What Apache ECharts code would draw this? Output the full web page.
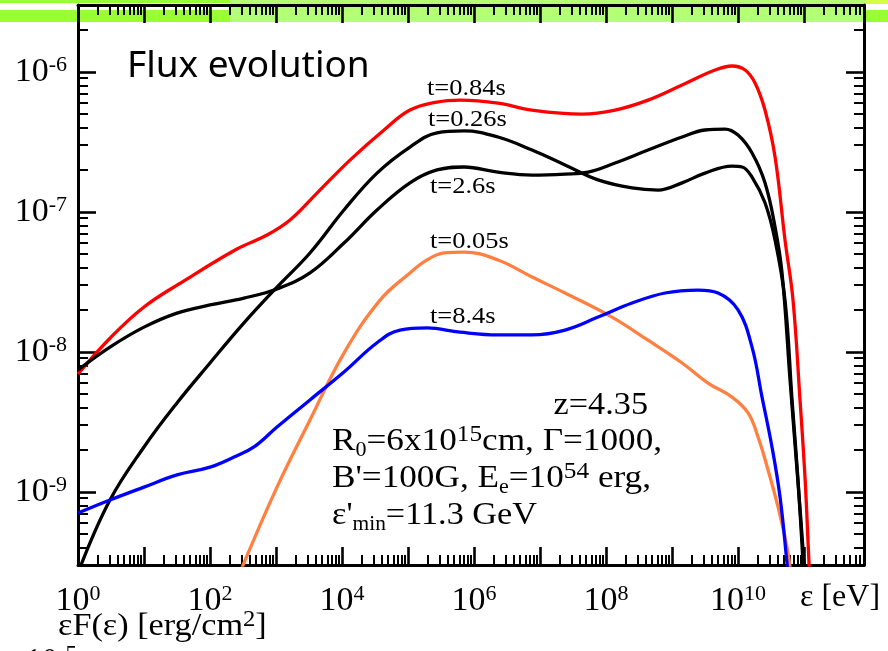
<!DOCTYPE html>
<html>
<head>
<meta charset="utf-8">
<script src="https://cdn.jsdelivr.net/npm/echarts@6/dist/echarts.min.js"></script>
<style>
  html, body { margin: 0; padding: 0; background: #ffffff; }
  #chart { width: 888px; height: 651px; }
</style>
</head>
<body>
<div id="chart"></div>
<script>
// Photon energy (eV) and flux εF(ε) (erg/cm²) for each epoch
const energy_t005 = [285, 327, 1035, 3270, 1.07e4, 3.77e4, 1.07e5, 1.94e5, 3.51e5, 7.05e5, 2.31e6, 7.57e6, 2.39e7, 1.23e8, 4.33e8, 1.42e9, 3.51e9, 8.11e9, 1.42e10, 2.01e10, 2.85e10, 4.04e10, 5.52e10, 6.35e10];
const flux_t005   = [2.55e-10, 3.10e-10, 1.08e-9, 3.26e-9, 9.79e-9, 2.34e-8, 3.66e-8, 4.53e-8, 5.08e-8, 5.16e-8, 4.53e-8, 3.42e-8, 2.63e-8, 1.77e-8, 1.21e-8, 8.32e-9, 5.98e-9, 4.75e-9, 3.66e-9, 2.46e-9, 1.43e-9, 7.78e-10, 4.03e-10, 2.55e-10];

const energy_t026 = [1.07, 3.05, 10, 31.6, 100, 327, 1035, 3270, 1.07e4, 3.39e4, 1.07e5, 2.75e5, 7.05e5, 2.31e6, 7.57e6, 2.39e7, 7.57e7, 2.48e8, 6.14e8, 1.42e9, 3.16e9, 8.11e9, 1.15e10, 1.63e10, 2.56e10, 3.64e10, 5.15e10, 6.58e10, 8.11e10, 9.66e10, 1.04e11];
const flux_t026   = [2.86e-10, 8.73e-10, 2.09e-9, 4.31e-9, 8.32e-9, 1.61e-8, 2.90e-8, 5.08e-8, 1.03e-7, 1.89e-7, 2.90e-7, 3.66e-7, 3.78e-7, 3.42e-7, 2.76e-7, 2.16e-7, 1.69e-7, 1.48e-7, 1.43e-7, 1.61e-7, 1.89e-7, 2.12e-7, 2.09e-7, 1.77e-7, 1.16e-7, 6.28e-8, 2.34e-8, 4.53e-9, 1.21e-9, 3.10e-10, 1.69e-10];

const energy_t084 = [1, 3.05, 10, 40.4, 256, 731, 1630, 4180, 1.32e4, 4.33e4, 1.07e5, 2.75e5, 6.14e5, 2.31e6, 7.57e6, 4.33e7, 1.37e8, 4.33e8, 1.42e9, 4.49e9, 8.11e9, 1.28e10, 1.81e10, 2.56e10, 3.64e10, 5.15e10, 6.81e10, 8.69e10, 1.04e11, 1.19e11, 1.28e11];
const flux_t084   = [6.94e-9, 1.25e-8, 2.09e-8, 3.21e-8, 5.42e-8, 6.82e-8, 8.73e-8, 1.36e-7, 2.34e-7, 3.84e-7, 5.33e-7, 6.08e-7, 6.28e-7, 5.98e-7, 5.33e-7, 4.99e-7, 5.33e-7, 6.28e-7, 8.05e-7, 1.03e-6, 1.10e-6, 1.03e-6, 8.32e-7, 5.33e-7, 2.46e-7, 6.28e-8, 2.34e-8, 4.53e-9, 1.21e-9, 3.10e-10, 1.69e-10];

const energy_t26 = [1, 3.05, 10, 31.6, 100, 327, 1035, 3270, 1.07e4, 3.39e4, 1.07e5, 2.75e5, 7.05e5, 2.31e6, 7.57e6, 2.39e7, 5.33e7, 1.37e8, 4.33e8, 1.42e9, 3.16e9, 6.35e9, 1e10, 1.63e10, 2.56e10, 3.64e10, 4.64e10, 6.14e10, 7.83e10, 1e11, 1.07e11];
const flux_t26   = [7.41e-9, 1.08e-8, 1.50e-8, 1.89e-8, 2.16e-8, 2.42e-8, 2.81e-8, 3.66e-8, 5.98e-8, 1.03e-7, 1.61e-7, 1.99e-7, 2.09e-7, 1.92e-7, 1.83e-7, 1.86e-7, 1.92e-7, 2.23e-7, 2.76e-7, 3.42e-7, 3.84e-7, 3.90e-7, 3.53e-7, 2.63e-7, 1.61e-7, 7.78e-8, 3.66e-8, 6.28e-9, 1.43e-9, 3.10e-10, 1.69e-10];

const energy_t84 = [1, 3.05, 10, 31.6, 100, 231, 464, 1035, 3270, 1.07e4, 3.39e4, 7.57e4, 1.94e5, 6.14e5, 2.31e6, 7.57e6, 2.39e7, 7.57e7, 2.48e8, 7.83e8, 2.48e9, 4.98e9, 1e10, 1.63e10, 2.31e10, 3.27e10, 4.33e10, 5.52e10, 5.93e10];
const flux_t84   = [7.05e-10, 8.73e-10, 1.08e-9, 1.32e-9, 1.50e-9, 1.77e-9, 2.09e-9, 2.90e-9, 4.53e-9, 7.17e-9, 1.16e-8, 1.43e-8, 1.48e-8, 1.38e-8, 1.32e-8, 1.32e-8, 1.43e-8, 1.77e-8, 2.23e-8, 2.63e-8, 2.76e-8, 2.63e-8, 1.99e-8, 1.08e-8, 4.75e-9, 2.09e-9, 9.18e-10, 3.10e-10, 2.16e-10];

// Axis ranges and labelled decades
const energyRange = [1, 8.1e11];
const fluxRange = [3e-10, 3e-6];
const energyLabelPowers = [0, 2, 4, 6, 8, 10];
const fluxLabelPowers = [-9, -8, -7, -6];
const epochNames = ['t=0.84s', 't=0.26s', 't=2.6s', 't=0.05s', 't=8.4s'];

const lg = Math.log10;
const serif = '"Liberation Serif", "Times New Roman", serif';

// Axes run in decades (log10 of the physical quantity)
const xMin = lg(energyRange[0]), xMax = lg(energyRange[1]);
const yMin = lg(fluxRange[0]), yMax = lg(fluxRange[1]);

function decadeTicks(lo, hi) {
  const major = [], minor = [];
  for (let p = Math.floor(lo) - 1; p <= Math.ceil(hi); p++) {
    if (p >= lo - 1e-9 && p <= hi + 1e-9) major.push(p);
    for (let k = 2; k <= 9; k++) {
      const v = p + lg(k);
      if (v > lo && v < hi) minor.push(v);
    }
  }
  return { major, minor };
}
const xTicks = decadeTicks(xMin, xMax);
const yTicks = decadeTicks(yMin, yMax);

const labelRich = {
  b: { fontSize: 34, fontFamily: serif, color: '#000', lineHeight: 36 },
  s: { fontSize: 22, fontFamily: serif, color: '#000', lineHeight: 20, verticalAlign: 'top' }
};
const powerLabel = v => '{b|10}{s|' + Math.round(v) + '}';

function makeAxis(kind, position, major, labels) {
  const isX = kind === 'x';
  const ticks = isX ? xTicks : yTicks;
  const ax = {
    type: 'value',
    position: position,
    min: isX ? xMin : yMin,
    max: isX ? xMax : yMax,
    axisLine: { show: major, onZero: false, lineStyle: { color: '#000', width: 3 } },
    axisTick: {
      show: true, inside: true, length: major ? 18 : 10,
      customValues: major ? ticks.major : ticks.minor,
      lineStyle: { color: '#000', width: major ? 2.6 : 2 }
    },
    splitLine: { show: false },
    minorTick: { show: false },
    axisLabel: { show: false }
  };
  if (labels) {
    ax.axisLabel = {
      show: true,
      customValues: isX ? energyLabelPowers : fluxLabelPowers,
      formatter: powerLabel,
      fontSize: 34,
      fontFamily: serif,
      color: '#000',
      rich: labelRich,
      margin: isX ? 18 : 11
    };
  }
  return ax;
}

const pts = (E, F) => E.map((e, i) => [lg(e), lg(F[i])]);
function curve(name, E, F, color) {
  return {
    name: name, type: 'line', data: pts(E, F),
    showSymbol: false, smooth: 0.4, clip: true, silent: true,
    lineStyle: { color: color, width: 3.3 }
  };
}

const paramRich = {
  n:   { fontSize: 32, fontFamily: serif, fill: '#000', lineHeight: 38 },
  sub: { fontSize: 20, fontFamily: serif, fill: '#000', lineHeight: 16, verticalAlign: 'bottom' },
  sup: { fontSize: 23, fontFamily: serif, fill: '#000', lineHeight: 22, verticalAlign: 'top' }
};
function richText(x, y, text, align, sx) {
  return {
    type: 'text', x: x, y: y, scaleX: sx || 1, z: 10,
    style: { text: text, rich: paramRich, fill: '#000',
      align: align || 'left', textAlign: align || 'left',
      verticalAlign: 'middle', textVerticalAlign: 'middle' }
  };
}
function plainText(x, y, text, font, sx) {
  return {
    type: 'text', x: x, y: y, scaleX: sx || 1, z: 10,
    style: { text: text, font: font, fill: '#000',
      align: 'left', textAlign: 'left',
      verticalAlign: 'middle', textVerticalAlign: 'middle' }
  };
}
const band = (x, y, w, h, c) => ({ type: 'rect', z: -10, shape: { x: x, y: y, width: w, height: h }, style: { fill: c } });
const tFont = '23px ' + serif;

const chart = echarts.init(document.getElementById('chart'), null, { renderer: 'canvas' });
chart.setOption({
  animation: false,
  backgroundColor: '#ffffff',
  grid: { left: 78, top: 5, width: 786, height: 560, containLabel: false, outerBoundsMode: 'none' },
  xAxis: [
    makeAxis('x', 'bottom', true, true),
    makeAxis('x', 'bottom', false, false),
    makeAxis('x', 'top', true, false),
    makeAxis('x', 'top', false, false)
  ],
  yAxis: [
    makeAxis('y', 'left', true, true),
    makeAxis('y', 'left', false, false),
    makeAxis('y', 'right', true, false),
    makeAxis('y', 'right', false, false)
  ],
  series: [
    curve(epochNames[0], energy_t084, flux_t084, '#ff0000'),
    curve(epochNames[3], energy_t005, flux_t005, '#ff8040'),
    curve(epochNames[1], energy_t026, flux_t026, '#000000'),
    curve(epochNames[2], energy_t26, flux_t26, '#000000'),
    curve(epochNames[4], energy_t84, flux_t84, '#0000ff')
  ],
  graphic: { elements: [
    band(0, 0, 230, 3, '#99ff33'),
    band(0, 10, 230, 12, '#99ff33'),
    band(230, 0, 636, 22, '#b5ff75'),
    band(866, 0, 22, 4, '#d4ff44'),
    band(866, 10, 22, 12, '#99ff33'),
    plainText(127, 66, 'Flux evolution', '37px "Noto Sans", sans-serif'),
    plainText(427, 89, epochNames[0], tFont, 1.15),
    plainText(428, 120, epochNames[1], tFont, 1.15),
    plainText(430, 187, epochNames[2], tFont, 1.15),
    plainText(430, 242, epochNames[3], tFont, 1.15),
    plainText(430, 317, epochNames[4], tFont, 1.15),
    richText(648, 406, '{n|z=4.35}', 'right', 1.07),
    richText(332, 442, '{n|R}{sub|0}{n|=6x10}{sup|15}{n|cm, Γ=1000,}', 'left', 1.1),
    richText(332, 479, "{n|B'=100G, E}{sub|e}{n|=10}{sup|54}{n| erg,}", 'left', 1.1),
    richText(332, 516, "{n|ε'}{sub|min}{n|=11.3 GeV}", 'left', 1.07),
    plainText(800, 598, 'ε [eV]', '32px ' + serif),
    richText(58, 627, '{n|εF(ε) [erg/cm}{sup|2}{n|]}', 'left', 1.07),
    richText(77, 662, '{n|10}{sup|-5}', 'right')
  ] }
});
</script>
</body>
</html>
